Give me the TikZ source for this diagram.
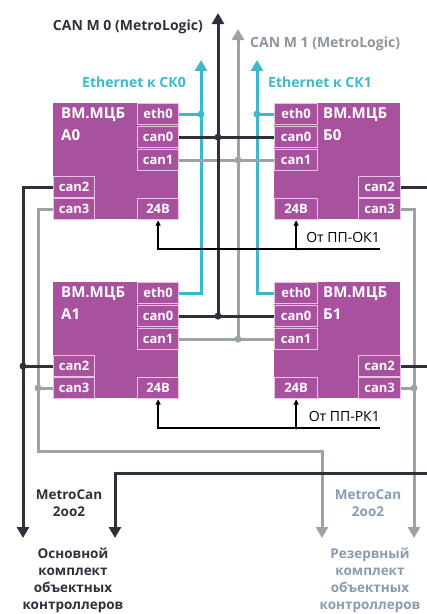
\documentclass[tikz,border=0pt]{standalone}
\usepackage{fontspec}
\setmainfont{Open Sans}
\usetikzlibrary{arrows.meta}
\definecolor{mag}{HTML}{A8519E}
\definecolor{magl}{HTML}{E6C3E0}
\definecolor{dk}{HTML}{2C313C}
\definecolor{gr}{HTML}{9CA3A8}
\definecolor{grt}{HTML}{8E959B}
\definecolor{grb}{HTML}{8A9BAE}
\definecolor{cy}{HTML}{3BB9CB}
\tikzset{
  blockbox/.style={fill=mag, draw=none, inner sep=0pt, anchor=north west},
  cell/.style={fill=mag, draw=magl, line width=1.2pt, inner sep=0pt, anchor=north west,
    text=white, font=\bfseries\fontsize{13}{13}\selectfont, minimum width=41pt, minimum height=21pt},
  bname/.style={text=white, font=\bfseries\fontsize{15}{22}\selectfont, align=left, anchor=north west, inner sep=0pt},
  blk/.style={draw=dk, line width=3pt},
  gry/.style={draw=gr, line width=3pt},
  eth/.style={draw=cy, line width=3pt},
  pwr/.style={draw=black, line width=1.3pt},
  bigtip/.style={-{Triangle[width=12pt,length=11pt]}},
  smalltip/.style={-{Triangle[width=5pt,length=5.5pt]}},
  dot/.style={circle, inner sep=0pt, minimum size=7pt},
  lbl/.style={font=\bfseries\fontsize{14}{17}\selectfont, inner sep=0pt},
}
\begin{document}
\begin{tikzpicture}[x=1pt,y=-1pt]
\useasboundingbox (0,0) rectangle (427,614);
% ---------- blocks ----------
\foreach \nm/\yy in {0/0,1/179}{
  % A block
  \node[blockbox, minimum width=125pt, minimum height=116pt] (A\nm) at (53,103+\yy) {};
  \node[cell] (a\nm eth) at (137,103+\yy) {eth0};
  \node[cell] (a\nm can0) at (137,126+\yy) {can0};
  \node[cell] (a\nm can1) at (137,149+\yy) {can1};
  \node[cell] (a\nm can2) at (53,176+\yy) {can2};
  \node[cell] (a\nm can3) at (53,198+\yy) {can3};
  \node[cell] (a\nm v) at (137,198+\yy) {24В};
  % B block
  \node[blockbox, minimum width=126pt, minimum height=116pt] (B\nm) at (274,103+\yy) {};
  \node[cell, minimum width=43pt] (b\nm eth) at (274,103+\yy) {eth0};
  \node[cell, minimum width=43pt] (b\nm can0) at (274,126+\yy) {can0};
  \node[cell, minimum width=43pt] (b\nm can1) at (274,149+\yy) {can1};
  \node[cell, minimum width=42pt] (b\nm can2) at (358,176+\yy) {can2};
  \node[cell, minimum width=42pt] (b\nm can3) at (358,198+\yy) {can3};
  \node[cell, minimum width=43pt] (b\nm v) at (274,198+\yy) {24В};
}
\node[bname] (na0) at (61,108) {ВМ.МЦБ\\А0};
\node[bname] (na1) at (61,287) {ВМ.МЦБ\\А1};
\node[bname] (nb0) at (323,108) {ВМ.МЦБ\\Б0};
\node[bname] (nb1) at (323,287) {ВМ.МЦБ\\Б1};
% ---------- coordinates ----------
\coordinate (c0top) at (218,13);
\coordinate (c1top) at (238,29);
\coordinate (e0top) at (201,60);
\coordinate (e1top) at (257,60);
\coordinate (lb) at (23,538);
\coordinate (lg) at (38,451);
\coordinate (lgend) at (322,538);
\coordinate (rb) at (427,473);
\coordinate (rbend) at (115,538);
\coordinate (rg) at (414,538);
\coordinate (p0) at (380,249);
\coordinate (p1) at (380,428);
% ---------- ethernet ----------
\draw[eth, bigtip] (a1eth.east) -| (e0top);
\draw[eth] (a0eth.east) -- (a0eth.east -| e0top);
\node[dot, fill=cy] (d1) at (a0eth.east -| e0top) {};
\draw[eth, bigtip] (b1eth.west) -| (e1top);
\draw[eth] (b0eth.west) -- (b0eth.west -| e1top);
\node[dot, fill=cy] (d2) at (b0eth.west -| e1top) {};
% ---------- CAN M 1 (grey) ----------
\draw[gry, bigtip] (a1can1.east -| c1top) -- (c1top);
\draw[gry] (a0can1.east) -- (b0can1.west);
\draw[gry] (a1can1.east) -- (b1can1.west);
\node[dot, fill=gr] (d3) at (a0can1.east -| c1top) {};
\node[dot, fill=gr] (d4) at (a1can1.east -| c1top) {};
% ---------- CAN M 0 (black) ----------
\draw[blk, bigtip] (a1can0.east -| c0top) -- (c0top);
\draw[blk] (a0can0.east) -- (b0can0.west);
\draw[blk] (a1can0.east) -- (b1can0.west);
\node[dot, fill=dk] (d5) at (a0can0.east -| c0top) {};
\node[dot, fill=dk] (d6) at (a1can0.east -| c0top) {};
% ---------- power ----------
\draw[pwr, smalltip] (p0) -| (a0v.south);
\draw[pwr, smalltip] (b0v.south |- p0) -- (b0v.south);
\node[dot, fill=black, minimum size=3pt] (d7) at (b0v.south |- p0) {};
\draw[pwr, smalltip] (p1) -| (a1v.south);
\draw[pwr, smalltip] (b1v.south |- p1) -- (b1v.south);
\node[dot, fill=black, minimum size=3pt] (d8) at (b1v.south |- p1) {};
\node[font=\fontsize{14}{14}\selectfont, anchor=east, inner sep=0pt] (t7) at (380,237) {От ПП-ОК1};
\node[font=\fontsize{14}{14}\selectfont, anchor=east, inner sep=0pt] (t8) at (380,416) {От ПП-РК1};
% ---------- left outputs ----------
\draw[gry, bigtip] (a0can3.west) -| (lg) -| (lgend);
\draw[gry] (a1can3.west) -- (a1can3.west -| lg);
\node[dot, fill=gr] (d9) at (a1can3.west -| lg) {};
\draw[blk, bigtip] (a0can2.west) -| (lb);
\draw[blk] (a1can2.west) -- (a1can2.west -| lb);
\node[dot, fill=dk] (d10) at (a1can2.west -| lb) {};
% ---------- right outputs ----------
\draw[gry, bigtip] (b0can3.east) -| (rg);
\draw[gry] (b1can3.east) -- (b1can3.east -| rg);
\node[dot, fill=gr] (d11) at (b1can3.east -| rg) {};
\draw[blk] (b0can2.east) -- (b0can2.east -| rb);
\draw[blk] (b1can2.east) -- (b1can2.east -| rb);
\draw[blk, bigtip] (rb) -| (rbend);
% ---------- labels ----------
\node[lbl, text=dk, anchor=east] (t1) at (203,27) {CAN M 0 (MetroLogic)};
\node[lbl, text=grt, anchor=west] (t2) at (250,44) {CAN M 1 (MetroLogic)};
\node[lbl, text=cy, anchor=east] (t3) at (186,82) {Ethernet к СК0};
\node[lbl, text=cy, anchor=west] (t4) at (268,82) {Ethernet к СК1};
\node[lbl, text=dk, align=center, font=\bfseries\fontsize{13.5}{17}\selectfont] (t5) at (69,503) {MetroCan\\2oo2};
\node[lbl, text=grb, align=center, font=\bfseries\fontsize{13.5}{17}\selectfont] (t6) at (368,503) {MetroCan\\2oo2};
\node[lbl, text=dk, align=center, anchor=north, font=\bfseries\fontsize{13.5}{17}\selectfont] (t9) at (73,548) {Основной\\комплект\\объектных\\контроллеров};
\node[lbl, text=grb, align=center, anchor=north, font=\bfseries\fontsize{13.5}{17}\selectfont] (t10) at (370,548) {Резервный\\комплект\\объектных\\контроллеров};
\end{tikzpicture}
\end{document}
